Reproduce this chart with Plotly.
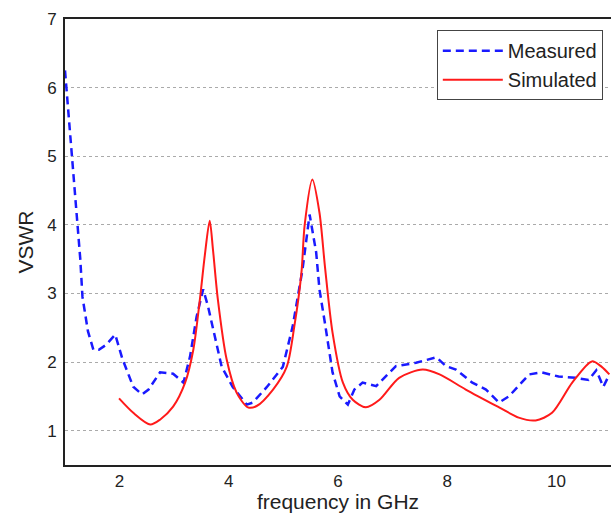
import plotly.graph_objects as go

# Measured VSWR (blue dashed)
meas_f = [1.0, 1.1, 1.2, 1.28, 1.32, 1.42, 1.52, 1.62, 1.75, 1.92, 2.05, 2.25, 2.41, 2.53, 2.74, 2.98,
          3.17, 3.29, 3.41, 3.53, 3.62, 3.75, 3.87, 4.07, 4.33, 4.44, 4.69, 4.99, 5.17, 5.35, 5.48,
          5.6, 5.66, 5.76, 5.9, 6.03, 6.18, 6.3, 6.45, 6.7, 7.06, 7.43, 7.8, 7.98, 8.16, 8.46, 8.71,
          8.95, 9.13, 9.5, 9.73, 10.04, 10.35, 10.59, 10.73, 10.86, 10.97]
meas_v = [6.25, 5.3, 4.3, 3.5, 2.95, 2.45, 2.18, 2.18, 2.25, 2.4, 2.05, 1.64, 1.53, 1.6, 1.85, 1.83,
          1.7, 2.08, 2.66, 3.06, 2.81, 2.37, 1.93, 1.64, 1.38, 1.41, 1.63, 1.93, 2.52, 3.35, 4.15,
          3.6, 3.06, 2.57, 1.85, 1.5, 1.38, 1.6, 1.7, 1.65, 1.94, 1.99, 2.07, 1.94, 1.89, 1.7, 1.6,
          1.41, 1.5, 1.82, 1.85, 1.79, 1.77, 1.74, 1.88, 1.64, 1.82]

# Simulated VSWR (red solid)
sim_f = [1.99, 2.25, 2.56, 2.74, 2.98, 3.2, 3.35, 3.47, 3.56, 3.65, 3.71, 3.8, 3.96, 4.14, 4.35,
         4.51, 4.81, 5.06, 5.2, 5.33, 5.39, 5.53, 5.66, 5.76, 5.9, 6.09, 6.27, 6.51, 6.76, 7.12,
         7.55, 7.86, 8.34, 8.95, 9.31, 9.62, 9.92, 10.29, 10.65, 10.83, 10.97]
sim_v = [1.47, 1.26, 1.09, 1.16, 1.35, 1.7, 2.18, 2.91, 3.55, 4.06, 3.64, 2.91, 2.04, 1.56, 1.34,
         1.36, 1.6, 1.93, 2.52, 3.3, 4.0, 4.66, 4.18, 3.4, 2.43, 1.7, 1.45, 1.34, 1.45, 1.77,
         1.89, 1.82, 1.6, 1.34, 1.19, 1.15, 1.26, 1.7, 2.01, 1.93, 1.82]

x_ticks = [2, 4, 6, 8, 10]
y_ticks = [1, 2, 3, 4, 5, 6, 7]

fig = go.Figure()
fig.add_trace(go.Scatter(x=meas_f, y=meas_v, mode="lines", name="Measured",
                         line=dict(color="#1a1aff", width=2.5, dash="8px,5px")))
fig.add_trace(go.Scatter(x=sim_f, y=sim_v, mode="lines", name="Simulated",
                         line=dict(color="#ff1a1a", width=2, shape="spline", smoothing=0.8)))

font_family = "Liberation Sans, Arial, sans-serif"
fig.update_layout(
    width=611, height=513,
    margin=dict(l=65, r=0, t=19, b=48, autoexpand=False),
    paper_bgcolor="white", plot_bgcolor="white",
    font=dict(family=font_family, color="#222", size=17),
    legend=dict(x=0.985, y=0.975, xanchor="right", yanchor="top",
                bordercolor="#444", borderwidth=1, bgcolor="white",
                font=dict(size=20, color="#222"), itemwidth=60,
                tracegroupgap=0),
    showlegend=True,
)
fig.update_xaxes(range=[1, 11], tickvals=x_ticks, showgrid=False, zeroline=False,
                 showline=True, linecolor="#222", linewidth=2, mirror=True,
                 ticks="", ticklabelstandoff=0, automargin=False,
                 title=dict(text="frequency in GHz", font=dict(size=21, color="#222"), standoff=0))
fig.update_yaxes(range=[0.5, 7], tickvals=y_ticks, showgrid=True, gridcolor="#aaa",
                 griddash="dot", gridwidth=1, zeroline=False,
                 showline=True, linecolor="#222", linewidth=2, mirror=True,
                 ticks="", ticklabelstandoff=3, automargin=False,
                 title=dict(text="VSWR", font=dict(size=21, color="#222"), standoff=8))

fig.write_html("out.html", config={"displayModeBar": False},
               post_script="document.body.style.margin='0';document.body.style.overflow='hidden';")
